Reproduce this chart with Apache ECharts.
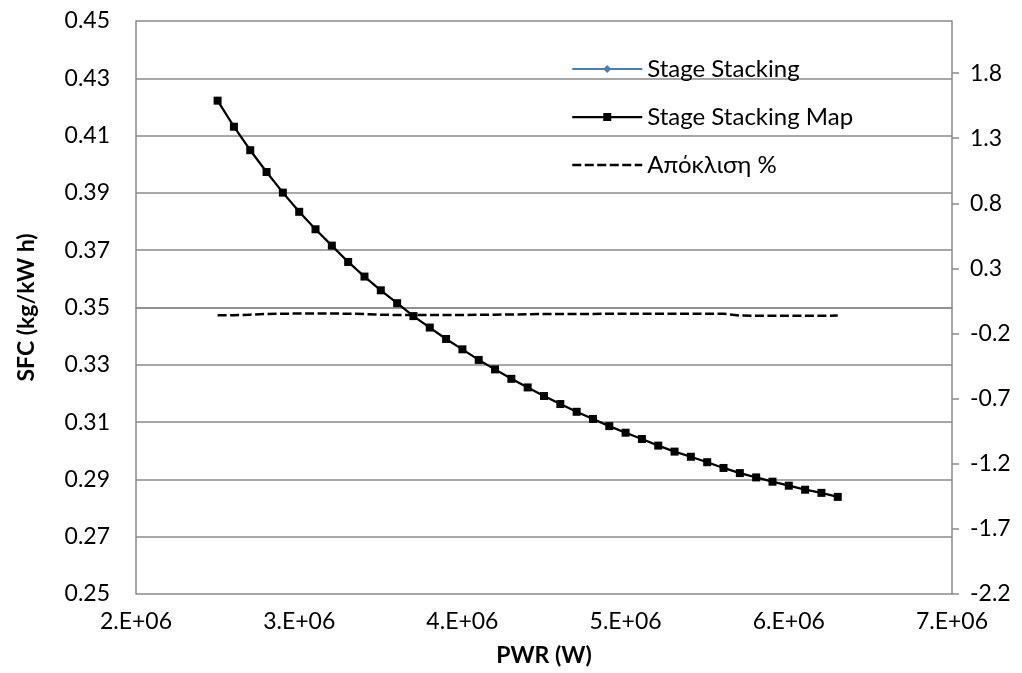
<!DOCTYPE html>
<html>
<head>
<meta charset="utf-8">
<script src="https://cdn.jsdelivr.net/npm/echarts@6/dist/echarts.min.js"></script>
<style>
  html, body { margin: 0; padding: 0; background: #fff; }
  #chart { width: 1022px; height: 673px; }
</style>
</head>
<body>
<div id="chart"></div>
<script>
// Shaft power (W)
const pwr = [
  2.5e6, 2.6e6, 2.7e6, 2.8e6, 2.9e6, 3.0e6, 3.1e6, 3.2e6, 3.3e6, 3.4e6,
  3.5e6, 3.6e6, 3.7e6, 3.8e6, 3.9e6, 4.0e6, 4.1e6, 4.2e6, 4.3e6, 4.4e6,
  4.5e6, 4.6e6, 4.7e6, 4.8e6, 4.9e6, 5.0e6, 5.1e6, 5.2e6, 5.3e6, 5.4e6,
  5.5e6, 5.6e6, 5.7e6, 5.8e6, 5.9e6, 6.0e6, 6.1e6, 6.2e6, 6.3e6
];

// SFC (kg/kW h) from the stage-stacking model
const sfcStageStacking = [
  0.4222, 0.4131, 0.4049, 0.3973, 0.3901, 0.3834, 0.3773, 0.3716, 0.3659, 0.3608,
  0.3560, 0.3515, 0.3470, 0.3430, 0.3390, 0.3354, 0.3317, 0.3284, 0.3251, 0.3221,
  0.3191, 0.3163, 0.3136, 0.3111, 0.3086, 0.3063, 0.3041, 0.3018, 0.2997, 0.2979,
  0.2960, 0.2940, 0.2922, 0.2907, 0.2892, 0.2878, 0.2864, 0.2853, 0.2839
];

// SFC (kg/kW h) from the stage-stacking map
const sfcStageStackingMap = [
  0.4222, 0.4131, 0.4049, 0.3973, 0.3901, 0.3834, 0.3773, 0.3716, 0.3659, 0.3608,
  0.3560, 0.3515, 0.3470, 0.3430, 0.3390, 0.3354, 0.3317, 0.3284, 0.3251, 0.3221,
  0.3191, 0.3163, 0.3136, 0.3111, 0.3086, 0.3063, 0.3041, 0.3018, 0.2997, 0.2979,
  0.2960, 0.2940, 0.2922, 0.2907, 0.2892, 0.2878, 0.2864, 0.2853, 0.2839
];

// Deviation between the two (%), right axis
const deviationPct = [
  -0.060, -0.060, -0.055, -0.050, -0.048, -0.046, -0.046, -0.046, -0.048, -0.050,
  -0.055, -0.058, -0.058, -0.058, -0.058, -0.058, -0.056, -0.055, -0.054, -0.052,
  -0.050, -0.050, -0.050, -0.049, -0.048, -0.048, -0.048, -0.048, -0.048, -0.048,
  -0.048, -0.048, -0.062, -0.064, -0.064, -0.064, -0.064, -0.063, -0.062
];

const seriesNames = ['Stage Stacking', 'Stage Stacking Map', 'Απόκλιση %'];

const pairs = (xs, ys) => xs.map((x, i) => [x, ys[i]]);

const FONT = 'Lato, "Noto Sans", sans-serif';
const GRID_GRAY = '#8a8a8a';

const chart = echarts.init(document.getElementById('chart'), null, { renderer: 'canvas' });

chart.setOption({
  animation: false,
  backgroundColor: '#ffffff',
  textStyle: { fontFamily: FONT, color: '#000' },
  grid: { left: 136, right: 70, top: 21, bottom: 79, containLabel: false },
  legend: {
    orient: 'vertical',
    left: 566,
    top: 50,
    itemWidth: 70,
    itemHeight: 10,
    itemGap: 20,
    textStyle: { fontFamily: FONT, fontSize: 24, color: '#000', lineHeight: 28 },
    data: [
      { name: seriesNames[0] },
      { name: seriesNames[1], lineStyle: { width: 2.25 } },
      { name: seriesNames[2], itemStyle: { opacity: 0 }, lineStyle: { width: 2.5, type: [9, 3.5] } }
    ]
  },
  xAxis: {
    type: 'value',
    min: 2e6,
    max: 7e6,
    interval: 1e6,
    name: 'PWR (W)',
    nameLocation: 'middle',
    nameGap: 50,
    nameTextStyle: { fontFamily: FONT, fontSize: 23, fontWeight: 'bold', color: '#000' },
    axisLine: { show: true, lineStyle: { color: GRID_GRAY, width: 1.5 } },
    axisTick: { show: false },
    splitLine: { show: false },
    axisLabel: {
      fontFamily: FONT, fontSize: 23, color: '#000', margin: 16,
      formatter: v => Math.round(v / 1e6) + '.E+06'
    }
  },
  yAxis: [
    {
      type: 'value',
      min: 0.25,
      max: 0.45,
      interval: 0.02,
      name: 'SFC (kg/kW h)',
      nameLocation: 'middle',
      nameGap: 98,
      nameTextStyle: { fontFamily: FONT, fontSize: 23, fontWeight: 'bold', color: '#000' },
      axisLine: { show: true, lineStyle: { color: GRID_GRAY, width: 1.5 } },
      axisTick: { show: false },
      splitLine: { show: true, lineStyle: { color: GRID_GRAY, width: 1.5 } },
      axisLabel: {
        fontFamily: FONT, fontSize: 23, color: '#000', margin: 26,
        formatter: v => v.toFixed(2)
      }
    },
    {
      type: 'value',
      position: 'right',
      min: -2.2,
      max: 2.2,
      interval: 0.5,
      axisLine: { show: true, lineStyle: { color: GRID_GRAY, width: 1.5 } },
      axisTick: { show: true, inside: false, length: 7, lineStyle: { color: GRID_GRAY, width: 1.5 } },
      splitLine: { show: false },
      axisLabel: {
        fontFamily: FONT, fontSize: 23, color: '#000', margin: 18,
        showMaxLabel: false,
        formatter: v => v.toFixed(1)
      }
    }
  ],
  series: [
    {
      name: seriesNames[0],
      type: 'line',
      yAxisIndex: 0,
      data: pairs(pwr, sfcStageStacking),
      symbol: 'diamond',
      symbolSize: 7,
      lineStyle: { color: '#4a7ebb', width: 1 },
      itemStyle: { color: '#4a7ebb' },
      z: 2
    },
    {
      name: seriesNames[1],
      type: 'line',
      yAxisIndex: 0,
      data: pairs(pwr, sfcStageStackingMap),
      symbol: 'rect',
      symbolSize: 8,
      lineStyle: { color: '#000', width: 2.25 },
      itemStyle: { color: '#000' },
      z: 3
    },
    {
      name: seriesNames[2],
      type: 'line',
      yAxisIndex: 1,
      data: pairs(pwr, deviationPct),
      symbol: 'none',
      lineStyle: { color: '#000', width: 2.5, type: [9, 3.5] },
      itemStyle: { color: '#000' },
      z: 4
    }
  ]
});
</script>
</body>
</html>
